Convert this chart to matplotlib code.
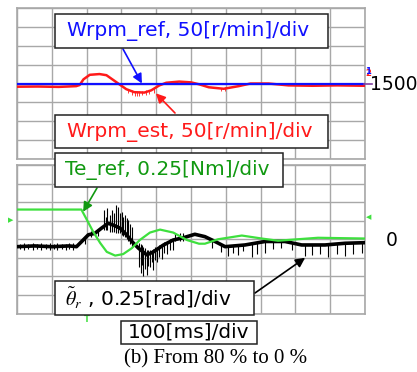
import matplotlib
matplotlib.use("Agg")
import matplotlib.pyplot as plt
from matplotlib.patches import Rectangle

plt.rcParams['font.family'] = ['DejaVu Sans']
plt.rcParams['mathtext.fontset'] = 'stix'

W, H = 417, 372

# speed traces [r/min] vs time [ms]
t_ref = [0, 1000]
w_ref = [1500, 1500]
t_est = [0, 60, 120, 170, 180, 191, 209, 237, 257, 274, 294, 314, 337, 366, 386,
         409, 429, 466, 500, 523, 551, 594, 637, 671, 723, 780, 850, 920, 1000]
w_est = [1491.5, 1492, 1491, 1493, 1496, 1511, 1523, 1525, 1522, 1511, 1498, 1485,
         1477, 1476, 1482, 1495, 1502, 1505, 1503, 1498, 1490, 1486, 1493, 1500,
         1500, 1495, 1494, 1495, 1494]
est_spike_t = [318, 330, 338, 345, 352, 360, 372, 380, 395, 585, 598]
est_spike_lo = [1474, 1470, 1468, 1467, 1468, 1469, 1470, 1472, 1476, 1480, 1481]
est_spike_hi = [1486, 1482, 1480, 1479, 1480, 1481, 1482, 1484, 1488, 1489, 1490]

# torque reference [Nm]
t_te = [0, 185, 201, 219, 239, 258, 282, 305, 330, 353, 382, 411, 449, 488, 523,
        540, 578, 646, 703, 750, 807, 865, 930, 1000]
te_ref = [0.40, 0.40, 0.26, 0.10, -0.05, -0.17, -0.22, -0.20, -0.12, -0.01, 0.09,
          0.13, 0.09, -0.01, -0.06, -0.06, 0.00, 0.05, 0.01, -0.02, 0.00, 0.02,
          0.015, 0.01]

# position error [rad]
t_th = [0, 50, 100, 150, 171, 186, 205, 224, 243, 262, 277, 296, 315, 330, 349,
        373, 392, 420, 449, 478, 511, 540, 569, 598, 655, 713, 770, 818, 885, 943, 1000]
th_err = [-0.10, -0.09, -0.10, -0.09, -0.10, -0.03, 0.06, 0.08, 0.15, 0.215, 0.19,
          0.15, 0.06, -0.03, -0.12, -0.21, -0.17, -0.08, -0.01, 0.02, 0.067, 0.035,
          -0.03, -0.10, -0.077, -0.03, -0.03, -0.077, -0.077, -0.054, -0.046]
th_spike_t = [10, 20, 32, 45, 58, 70, 83, 95, 105, 115, 128, 140, 150, 160, 195, 212, 232,
              251, 256, 260, 266, 272, 278, 284, 291, 296, 301, 306, 310, 315, 320, 325, 330,
              352, 355, 359, 363, 368, 373, 377, 382, 387, 392, 397, 401, 408, 416, 423, 430, 440, 449,
              455, 468, 478,
              560, 585, 607, 622, 636, 650, 674, 689, 713, 735, 760, 790, 828, 847, 871, 895,
              919, 943, 966, 991]
th_spike_lo = [-0.13, -0.15, -0.13, -0.14, -0.13, -0.15, -0.13, -0.14, -0.13, -0.15, -0.13, -0.14,
               -0.13, -0.15, -0.06, 0.03, 0.05,
               0.12, 0.13, 0.12, 0.10, 0.10, 0.10, 0.09, 0.08, 0.08, 0.06, 0.05, 0.03, 0.0, -0.03, -0.06, -0.10,
               -0.38, -0.46, -0.35, -0.50, -0.40, -0.48, -0.36, -0.37, -0.30, -0.41, -0.28, -0.30, -0.24,
               -0.26, -0.18, -0.20, -0.14, -0.15,
               -0.03, -0.03, -0.02,
               -0.12, -0.17, -0.23, -0.18, -0.21, -0.16, -0.24, -0.20, -0.18, -0.13, -0.12, -0.14,
               -0.23, -0.21, -0.20, -0.24, -0.20, -0.22, -0.20, -0.19]
th_spike_hi = [-0.06, -0.05, -0.07, -0.05, -0.06, -0.05, -0.06, -0.05, -0.06, -0.05, -0.07, -0.06,
               -0.05, -0.05, 0.03, 0.11, 0.12,
               0.39, 0.30, 0.42, 0.33, 0.40, 0.35, 0.46, 0.44, 0.36, 0.37, 0.30, 0.33, 0.28, 0.26, 0.20, 0.17,
               -0.05, -0.07, -0.08, -0.10, -0.12, -0.14, -0.15, -0.15, -0.14, -0.13, -0.11, -0.10, -0.08,
               -0.06, -0.04, -0.02, 0.0, 0.01,
               0.09, 0.08, 0.09,
               -0.02, -0.06, -0.08, -0.08, -0.07, -0.07, -0.05, -0.05, -0.04, -0.04, -0.04, -0.05,
               -0.06, -0.06, -0.06, -0.05, -0.05, -0.05, -0.04, -0.04]

BLUE = '#1010ff'
RED = '#ff1a1a'
LIME = '#3ee03e'
DKGREEN = '#119911'
GRID = '#a8a8a8'


def fx(x):
    return x / W


def fy(y):
    return 1 - y / H


fig = plt.figure(figsize=(W / 100, H / 100), dpi=100)
fig.patch.set_facecolor('white')

ax1 = fig.add_axes([fx(17), fy(159), fx(348), 151 / H])
ax2 = fig.add_axes([fx(17), fy(313.5), fx(348), 148.5 / H])


def scope(ax, lo, step):
    ax.set_xlim(0, 1000)
    ax.set_ylim(lo, lo + 8 * step)
    ax.set_xticks(range(0, 1001, 100))
    ax.set_yticks([lo + i * step for i in range(9)])
    ax.grid(True, color=GRID, lw=1.0)
    ax.tick_params(length=0, labelbottom=False, labelleft=False)
    for s in ax.spines.values():
        s.set_color(GRID)
        s.set_linewidth(1.2)


scope(ax1, 1300, 50)
scope(ax2, -1.0, 0.25)

# speed panel
ax1.plot(t_est, w_est, color=RED, lw=1.8, zorder=3)
ax1.vlines(est_spike_t, est_spike_lo, est_spike_hi, color=RED, lw=0.6, zorder=3)
ax1.plot(t_ref, w_ref, color=BLUE, lw=1.6, zorder=4)

# torque / position error panel
ax2.plot(t_th, th_err, color='black', lw=2.6, zorder=3)
ax2.vlines(th_spike_t, th_spike_lo, th_spike_hi, color='black', lw=0.8, zorder=3)
ax2.plot(t_te, te_ref, color=LIME, lw=1.6, zorder=4)

# label boxes
boxes = [(55, 14, 328, 48), (55, 115, 328, 148), (55, 153, 283, 187),
         (55, 281, 254, 315), (121, 321, 257, 344)]
for x0, y0, x1, y1 in boxes:
    fig.add_artist(Rectangle((fx(x0), fy(y1)), fx(x1 - x0), (y1 - y0) / H,
                             transform=fig.transFigure, facecolor='white',
                             edgecolor='#222222', lw=1.1, zorder=5))

fs = 14.5
fig.text(fx(67), fy(31), 'Wrpm_ref, 50[r/min]/div', color=BLUE, fontsize=fs,
         va='center', ha='left', zorder=6)
fig.text(fx(67), fy(131.5), 'Wrpm_est, 50[r/min]/div', color=RED, fontsize=fs,
         va='center', ha='left', zorder=6)
fig.text(fx(65), fy(170), 'Te_ref, 0.25[Nm]/div', color=DKGREEN, fontsize=fs,
         va='center', ha='left', zorder=6)
fig.text(fx(65), fy(298), r'$\tilde{\theta}_r$ , 0.25[rad]/div', color='black',
         fontsize=fs, va='center', ha='left', zorder=6)
fig.text(fx(189), fy(332.5), '100[ms]/div', color='black', fontsize=fs,
         va='center', ha='center', zorder=6)
fig.text(fx(216), fy(359), '(b) From 80 % to 0 %', color='black', fontsize=15,
         family='Liberation Serif', va='center', ha='center')

# channel offsets at the right edge
fig.text(fx(370), fy(85), '1500', fontsize=13.5, va='center', ha='left')
fig.text(fx(392), fy(240), '0', fontsize=13.5, va='center', ha='center')
fig.text(fx(368), fy(73), '2', fontsize=6, color=RED, fontweight='bold',
         va='center', ha='center')
fig.text(fx(368), fy(72), '1', fontsize=6, color=BLUE, fontweight='bold',
         va='center', ha='center')
fig.add_artist(plt.Line2D([fx(364), fx(372)], [fy(84), fy(84)], color='#8040a0',
                          lw=1.2, transform=fig.transFigure))
fig.text(fx(11), fy(220), '\u25B6', fontsize=5, color=LIME, va='center', ha='center')
fig.text(fx(369), fy(217), '\u25C0', fontsize=5, color=LIME, va='center', ha='center')
fig.text(fx(87), fy(319), 'T', fontsize=6, color=LIME, fontweight='bold',
         va='center', ha='center')


def arrow(ax, xy, start, color):
    ax.annotate('', xy=xy, xycoords='data', xytext=(start[0], H - start[1]),
                textcoords='figure pixels', annotation_clip=False,
                arrowprops=dict(arrowstyle='-|>', color=color, lw=1.2,
                                mutation_scale=14, shrinkA=0, shrinkB=0))


arrow(ax1, (359, 1500), (123, 49), BLUE)
arrow(ax1, (399, 1474), (175, 113), RED)
arrow(ax2, (190, 0.37), (97, 188), DKGREEN)
arrow(ax2, (828, -0.25), (255, 293), 'black')

fig.savefig('out.png', dpi=100, facecolor='white')
